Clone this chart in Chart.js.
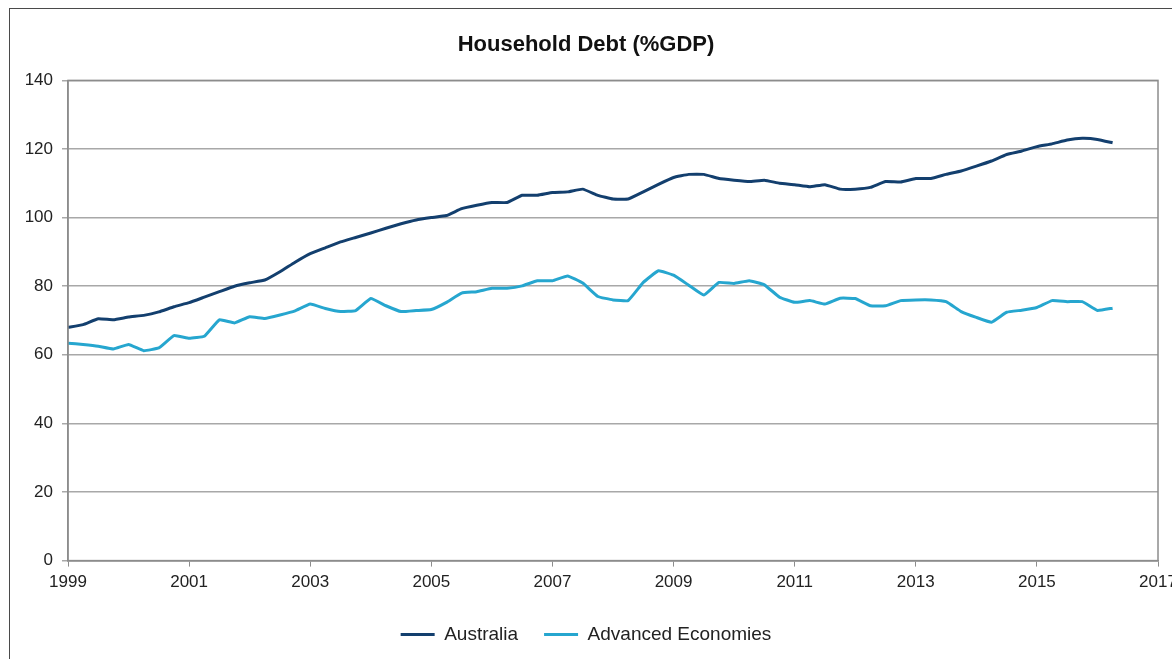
<!DOCTYPE html>
<html>
<head>
<meta charset="utf-8">
<script src="https://cdn.jsdelivr.net/npm/chart.js@4"></script>
<style>
  body { margin: 0; background: #fff; }
  #wrap { position: relative; width: 1172px; height: 659px; }
  #frame { position: absolute; left: 9px; top: 8px; right: -5px; bottom: -5px; border: 1px solid #4a4a4a; }
</style>
</head>
<body>
<div id="wrap">
  <div id="frame"></div>
  <canvas id="debtChart"></canvas>
</div>
<script>
// quarterly observations, 1999 Q1 onwards
const quarters = Array.from({ length: 70 }, (_, i) => 1999 + i / 4);

const australia = [
  68.0, 68.8, 70.5, 70.2, 71.0, 71.5, 72.5, 74.0, 75.2, 76.8,
  78.4, 80.0, 81.0, 81.8, 84.2, 87.0, 89.5, 91.2, 92.9, 94.2,
  95.5, 96.9, 98.2, 99.3, 100.0, 100.6, 102.6, 103.6, 104.4, 104.4,
  106.5, 106.5, 107.3, 107.5, 108.3, 106.5, 105.4, 105.4, 107.5, 109.7,
  111.7, 112.6, 112.6, 111.4, 110.9, 110.5, 110.9, 110.0, 109.6, 109.0,
  109.6, 108.3, 108.3, 108.8, 110.5, 110.4, 111.4, 111.4, 112.6, 113.6,
  115.0, 116.5, 118.4, 119.4, 120.7, 121.5, 122.6, 123.1, 122.8, 121.8
];

const advancedEconomies = [
  63.4, 63.0, 62.5, 61.7, 63.0, 61.2, 62.0, 65.6, 64.8, 65.4,
  70.2, 69.3, 71.1, 70.6, 71.6, 72.8, 74.8, 73.5, 72.6, 72.9,
  76.4, 74.3, 72.6, 72.9, 73.2, 75.3, 78.0, 78.4, 79.4, 79.4,
  80.1, 81.6, 81.6, 83.0, 80.9, 77.0, 76.0, 75.8, 81.1, 84.5,
  83.2, 80.3, 77.4, 81.1, 80.8, 81.6, 80.4, 76.8, 75.3, 75.8,
  74.8, 76.5, 76.4, 74.3, 74.3, 75.8, 76.0, 76.0, 75.5, 72.6,
  70.9, 69.5, 72.4, 73.0, 73.8, 75.8, 75.5, 75.5, 72.9, 73.6
];

const xTicks = [1999, 2001, 2003, 2005, 2007, 2009, 2011, 2013, 2015, 2017];
const yTicks = [0, 20, 40, 60, 80, 100, 120, 140];

const fontFamily = "'Liberation Sans', Arial, sans-serif";
const axisColor = "#8c8c8c";

// outline of the plot area (top and right edges)
const plotBox = {
  id: "plotBox",
  afterDraw(chart) {
    const { ctx, chartArea } = chart;
    ctx.save();
    ctx.strokeStyle = axisColor;
    ctx.lineWidth = 1.5;
    ctx.strokeRect(chartArea.left, chartArea.top, chartArea.right - chartArea.left, chartArea.bottom - chartArea.top);
    ctx.restore();
  },
};

function toPoints(values) {
  return values.map((v, i) => ({ x: quarters[i], y: v }));
}

const ctx = document.getElementById("debtChart").getContext("2d");
new Chart(ctx, {
  type: "line",
  data: {
    datasets: [
      {
        label: "Australia",
        data: toPoints(australia),
        borderColor: "#133f6e",
        backgroundColor: "#133f6e",
        borderWidth: 3,
        pointRadius: 0,
        tension: 0.1,
      },
      {
        label: "Advanced Economies",
        data: toPoints(advancedEconomies),
        borderColor: "#26a6cf",
        backgroundColor: "#26a6cf",
        borderWidth: 3,
        pointRadius: 0,
        tension: 0.1,
      },
    ],
  },
  options: {
    responsive: true,
    maintainAspectRatio: false,
    animation: false,
    layout: {
      padding: { left: 0, right: 0, top: 0, bottom: 5 },
    },
    scales: {
      x: {
        type: "linear",
        min: 1999,
        max: 2017,
        afterBuildTicks: (scale) => {
          scale.ticks = xTicks.map((v) => ({ value: v }));
        },
        afterFit: (scale) => {
          scale.paddingRight = 14; // let the 2017 label run off the edge like the original
        },
        ticks: {
          color: "#222",
          font: { family: fontFamily, size: 17 },
          padding: 6,
          maxRotation: 0,
          callback: (v) => String(v),
        },
        grid: {
          drawOnChartArea: false,
          drawTicks: true,
          tickLength: 6,
          color: axisColor,
        },
        border: { color: axisColor, width: 1.5 },
      },
      y: {
        min: 0,
        max: 140,
        afterBuildTicks: (scale) => {
          scale.ticks = yTicks.map((v) => ({ value: v }));
        },
        afterFit: (scale) => {
          scale.width = 68;
        },
        ticks: {
          color: "#222",
          font: { family: fontFamily, size: 17 },
          padding: 9,
        },
        grid: {
          color: "#a8a8a8",
          lineWidth: 1.5,
          tickLength: 6,
        },
        border: { color: axisColor, width: 1.5 },
      },
    },
    plugins: {
      title: {
        display: true,
        text: "Household Debt (%GDP)",
        color: "#111",
        font: { family: fontFamily, size: 22, weight: "bold" },
        padding: { top: 32, bottom: 22 },
      },
      legend: {
        position: "bottom",
        labels: {
          color: "#222",
          font: { family: fontFamily, size: 19 },
          boxWidth: 34,
          boxHeight: 3,
          padding: 26,
          generateLabels: (chart) =>
            Chart.defaults.plugins.legend.labels.generateLabels(chart).map((item) => ({ ...item, lineWidth: 0 })),
        },
      },
      tooltip: { enabled: false },
    },
  },
  plugins: [plotBox],
});
</script>
</body>
</html>
